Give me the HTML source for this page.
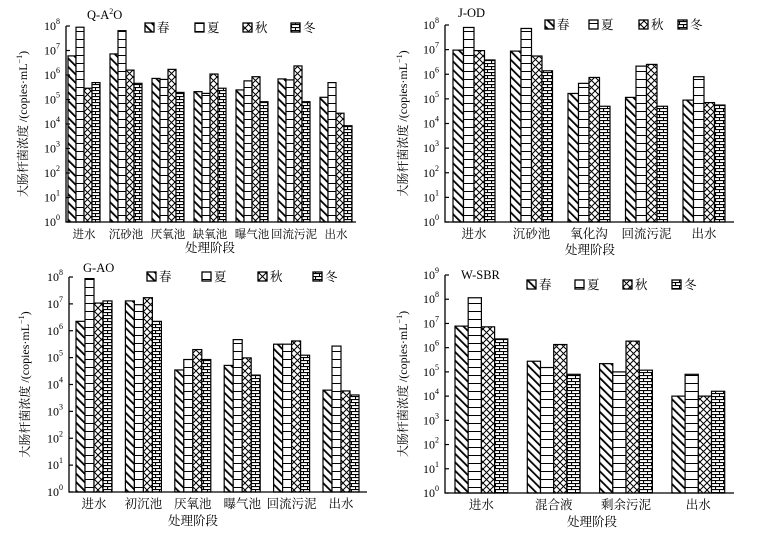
<!DOCTYPE html>
<html><head><meta charset="utf-8">
<style>
html,body{margin:0;padding:0;background:#fff;}
svg{display:block;font-family:"Liberation Serif","Noto Serif CJK SC","Noto Sans CJK SC",serif;}
</style></head>
<body>
<svg id="c" width="761" height="543" viewBox="0 0 761 543">
<defs>
<pattern id="p-spring" patternUnits="userSpaceOnUse" width="6" height="6" patternTransform="rotate(-45)"><rect width="6" height="6" fill="#fff"/><rect x="0" y="0" width="1.8" height="6" fill="#000"/></pattern>
<pattern id="p-summer" patternUnits="userSpaceOnUse" width="8" height="8"><rect width="8" height="8" fill="#fff"/><rect x="0" y="7" width="8" height="1.2" fill="#000"/></pattern>
<pattern id="p-autumn" patternUnits="userSpaceOnUse" width="7" height="7"><rect width="7" height="7" fill="#fff"/><path d="M0 0L7 7M7 0L0 7" stroke="#000" stroke-width="1"/></pattern>
<pattern id="p-winter" patternUnits="userSpaceOnUse" width="8" height="6"><rect width="8" height="6" fill="#fff"/><rect x="0" y="0" width="8" height="1.1" fill="#000"/><rect x="0" y="3" width="8" height="1.1" fill="#000"/><rect x="3" y="0" width="1.1" height="3" fill="#000"/><rect x="7" y="3" width="1.1" height="3" fill="#000"/></pattern>
</defs>
</svg>
<script>
// Panel data (log10 of copies/mL)
const seasons = ["春","夏","秋","冬"];
const qCategories = ["进水","沉砂池","厌氧池","缺氧池","曝气池","回流污泥","出水"];
const qSpring = [6.78,6.86,5.86,5.32,5.39,5.84,5.09];
const qSummer = [7.95,7.81,5.82,5.25,5.76,5.80,5.69];
const qAutumn = [5.46,6.20,6.23,6.04,5.93,6.37,4.44];
const qWinter = [5.69,5.66,5.29,5.46,4.91,4.91,3.93];
const jCategories = ["进水","沉砂池","氧化沟","回流污泥","出水"];
const jSpring = [6.98,6.94,5.22,5.06,4.95];
const jSummer = [7.90,7.86,5.63,6.33,5.90];
const jAutumn = [6.96,6.74,5.87,6.40,4.85];
const jWinter = [6.58,6.14,4.70,4.70,4.75];
const gCategories = ["进水","初沉池","厌氧池","曝气池","回流污泥","出水"];
const gSpring = [6.35,7.11,4.54,4.71,5.50,3.79];
const gSummer = [7.94,6.97,4.93,5.67,5.50,5.43];
const gAutumn = [7.03,7.23,5.30,4.99,5.62,3.76];
const gWinter = [7.11,6.35,4.93,4.35,5.09,3.61];
const wCategories = ["进水","混合液","剩余污泥","出水"];
const wSpring = [6.89,5.44,5.34,4.00];
const wSummer = [8.06,5.18,5.00,4.90];
const wAutumn = [6.86,6.13,6.27,4.00];
const wWinter = [6.36,4.90,5.07,4.20];
const qTicks = [0,1,2,3,4,5,6,7,8];
const wTicks = [0,1,2,3,4,5,6,7,8,9];

const svg = document.getElementById('c');
const NS = 'http://www.w3.org/2000/svg';
const fills = ['url(#p-spring)','url(#p-summer)','url(#p-autumn)','url(#p-winter)'];
const snames = ['spring','summer','autumn','winter'];
function mk(tag, attrs, parent){const e=document.createElementNS(NS,tag);for(const k in attrs)e.setAttribute(k,attrs[k]);(parent||svg).appendChild(e);return e;}

function panel(cfg){
  const g = mk('g',{});
  
  
  const y = v => cfg.y0 - (v - cfg.tmin) / (cfg.tmax - cfg.tmin) * (cfg.y0 - cfg.y1);
  const series = cfg.series;
  cfg.cats.forEach((c,i)=>{
    const gx = cfg.gx0 + i*cfg.gsp;
    series.forEach((s,j)=>{
      const top = y(s[i]);
      const r = mk('rect',{x:gx+j*cfg.bw,y:top,width:cfg.bw,height:cfg.y0-top,fill:fills[j],stroke:'#000','stroke-width':1.2},g);
      
      
    });
    const t = mk('text',{x:gx+cfg.bw*2,y:cfg.y0+16,'font-size':cfg.lfs,'text-anchor':'middle'},g);
    t.textContent = c;
    
    
  });
  const ax = mk('path',{d:`M${cfg.ax} ${cfg.y1}V${cfg.y0}H${cfg.axEnd}`,stroke:'#000','stroke-width':1.3,fill:'none'},g);
  
  
  cfg.ticks.forEach(tv=>{
    const ty = y(tv);
    mk('line',{x1:cfg.ax,x2:cfg.ax+4,y1:ty,y2:ty,stroke:'#000','stroke-width':1.2},g);
    const t = mk('text',{x:cfg.ax-6,y:ty+4,'font-size':12,'text-anchor':'end'},g);
    t.innerHTML = '10<tspan dy="-6" font-size="8">'+tv+'</tspan>';
    
    
  });
  const yt = mk('text',{x:0,y:0,'font-size':12,'text-anchor':'middle',transform:`translate(${cfg.ytx},${(cfg.y0+cfg.y1)/2}) rotate(-90)`},g);
  yt.innerHTML = '大肠杆菌浓度 /(copies·mL<tspan dy="-5" font-size="8">−1</tspan><tspan dy="5">)</tspan>';
  
  
  const xt = mk('text',{x:cfg.xtx,y:cfg.y0+cfg.xty,'font-size':12.5,'text-anchor':'middle'},g);
  xt.textContent = '处理阶段';
  
  
  const tt = mk('text',{x:cfg.titleX,y:cfg.titleY,'font-size':12.5},g);
  tt.innerHTML = cfg.title;
  
  
  seasons.forEach((s,j)=>{
    const lx = cfg.legX[j];
    const sw = mk('rect',{x:lx,y:cfg.legY-9,width:9,height:9,fill:fills[j],stroke:'#000','stroke-width':1.3},g);
    
    
    const lt = mk('text',{x:lx+12,y:cfg.legY,'font-size':12.5},g);
    lt.textContent = s;
    
    
  });
}

panel({name:'panel-q-a2o',cats:qCategories,series:[qSpring,qSummer,qAutumn,qWinter],ticks:qTicks,tmin:0,tmax:8,lfs:11.5,xty:30,
  y0:222,y1:26,ax:66,axEnd:356,gx0:68,gsp:42,bw:8,ytx:27,xtx:210,title:'Q-A<tspan dy="-5" font-size="8">2</tspan><tspan dy="5">O</tspan>',titleX:87,titleY:19,
  legX:[145,195,243,291],legY:32});
panel({name:'panel-j-od',cats:jCategories,series:[jSpring,jSummer,jAutumn,jWinter],ticks:qTicks,tmin:0,tmax:8,lfs:12.5,xty:32,
  y0:222,y1:25,ax:445,axEnd:734,gx0:453,gsp:57.5,bw:10.5,ytx:407,xtx:590,title:'J-OD',titleX:458,titleY:17,
  legX:[545,589,639,678],legY:29});
panel({name:'panel-g-ao',cats:gCategories,series:[gSpring,gSummer,gAutumn,gWinter],ticks:qTicks,tmin:0,tmax:8,lfs:12.5,xty:33,
  y0:492,y1:277,ax:69,axEnd:367,gx0:76,gsp:49.4,bw:9,ytx:29,xtx:193,title:'G-AO',titleX:83,titleY:272,
  legX:[147,202,258,313],legY:281});
panel({name:'panel-w-sbr',cats:wCategories,series:[wSpring,wSummer,wAutumn,wWinter],ticks:wTicks,tmin:0,tmax:9,lfs:12.5,xty:33,
  y0:493,y1:275,ax:445,axEnd:734,gx0:455,gsp:72.3,bw:13.2,ytx:407,xtx:592,title:'W-SBR',titleX:461,titleY:279,
  legX:[527,575,623,672],legY:289});
</script>
</body></html>
